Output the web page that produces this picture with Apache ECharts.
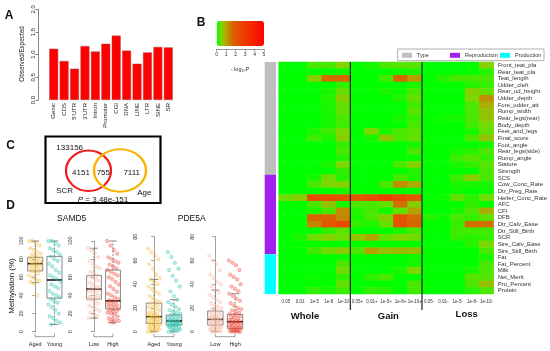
<!DOCTYPE html>
<html><head><meta charset="utf-8">
<script src="https://cdn.jsdelivr.net/npm/echarts@6/dist/echarts.min.js"></script>
<style>html,body{margin:0;padding:0;background:#fff}#c{width:550px;height:351px}</style>
</head><body><div id="c"></div>
<script>
// ---------- Panel A ----------
const featureCats = ['Genic','CDS',"5'UTR","3'UTR",'Intron','Promoter','CGI','DNA','LINE','LTR','SINE','SR'];
const obsExp = [1.13,0.86,0.69,1.19,1.07,1.24,1.42,1.09,0.80,1.05,1.17,1.16];

// ---------- Panel B ----------
const traits = ['Front_teat_pla','Rear_teat_pla','Teat_length','Udder_cleft','Rear_ud_height','Udder_depth','Fore_udder_att','Rump_width','Rear_legs(rear)','Body_depth','Feet_and_legs','Final_score','Foot_angle','Rear_legs(side)','Rump_angle','Stature','Strength','SCS','Cow_Conc_Rate','Dtr_Preg_Rate','Heifer_Conc_Rate','AFC','CFI','DFB','Dtr_Calv_Ease','Dtr_Still_Birth','SCR','Sire_Calv_Ease','Sire_Still_Birth','Fat','Fat_Percent','Milk','Net_Merit','Pro_Percent','Protein'];
const typeNames = ['Type','Reproduction','Production'];
const typeCounts = [17,12,6];
const colLabels = ['0.05','0.01','1e-5','1e-8','1e-10','0.05+','0.01+','1e-5+','1e-8+','1e-10+','0.05-','0.01-','1e-5-','1e-8-','1e-10-'];
const groupLabels = ['Whole','Gain','Loss'];
const heatWhole = [
[0,0,0.3,0.3,0.55],[0,0,0,0,0.05],[0,0,0.6,1.6,1.6],[0,0,0,0,0.2],[0,0,0,0.1,0.4],
[0,0,0,0.15,0.6],[0,0,0,0.1,0.4],[0,0,0,0.1,0.4],[0,0,0,0.1,0.3],[0,0,0,0.1,0.25],
[0,0,0.1,0.25,0.5],[0,0,0.25,0.1,0.6],[0,0,0,0,0.2],[0,0,0,0,0.3],[0,0,0,0,0.15],
[0,0,0,0.1,0.5],[0,0,0,0,0.2],[0,0,0.1,0.45,0.15],[0,0,0.3,0.5,0.55],[0,0,0,0,0.1],
[0.45,0.6,2.3,2.3,2.2],[0,0,0.3,0.7,0.1],[0,0,0.1,0.3,1.2],[0,0,1.8,1.8,1.3],[0,0,1.3,2.0,2.4],
[0,0,0,0.2,0.35],[0,0.1,0.45,0.55,0.45],[0,0,0,0,0],[0,0,0.25,0.45,0.6],[0,0,0,0,0.05],
[0,0,0,0,0.3],[0,0,0,0,0.45],[0,0,0.05,0,0.2],[0,0,0,0,0.4],[0,0,0.2,0.1,0.25]];
const heatGain = [
[0,0.1,0.3,0.35,0.35],[0,0,0,0.05,0.1],[0,0,0.25,1.7,1.1],[0,0,0,0,0.1],[0,0,0.1,0.05,0.3],
[0,0,0,0.15,0.4],[0,0,0,0,0.25],[0,0,0,0,0.35],[0,0,0,0.1,0.2],[0,0,0,0,0.3],
[0,0.5,0.1,0.3,0.35],[0,0.1,0.65,0.3,0.4],[0,0,0,0,0.1],[0,0,0,0,0.3],[0,0,0,0,0.05],
[0,0,0,0.3,0.55],[0,0,0,0,0.15],[0,0,0,0.3,0.1],[0,0,0.3,1.2,0.9],[0,0,0,0,0],
[2.0,2.3,2.8,2.3,2.0],[0.3,0.3,0.4,1.5,0.6],[0.15,0.3,0.1,0.4,1.0],[0.1,0.3,0.6,2.2,1.6],[0.2,0.1,0.4,2.1,1.7],
[0,0,0,0.1,0.3],[0.7,1.0,0.4,0.55,0.45],[0,0,0,0,0],[0.3,1.0,0.7,0.8,0.75],[0,0,0,0,0.05],
[0,0,0,0,0.1],[0,0,0,0.1,0.5],[0,0.2,0.3,0,0],[0,0,0,0,0.3],[0,0.2,0.15,0,0.25]];
const heatLoss = [
[0,0,0,0,0.55],[0,0,0,0,0.15],[0,0.15,0.3,0.3,0.3],[0,0,0,0.15,0.2],[0,0,0,0.6,0.4],
[0,0,0,0.5,1.2],[0,0,0,0.3,0.9],[0,0,0,0.3,0.7],[0,0.05,0.1,0.3,0.7],[0,0,0,0.25,0.45],
[0,0,0,0.1,0.4],[0,0,0,0.3,0.7],[0,0,0,0,0.1],[0,0,0.1,0.15,0.3],[0,0,0.25,0.35,0.2],
[0,0,0.1,0.2,0.35],[0,0,0,0,0.3],[0,0,0.25,0.6,0.3],[0,0,0.1,0.1,0.1],[0,0,0.05,0,0.05],
[0,0.05,0.4,0.15,0.45],[0,0,0,0.2,0],[0,0,0.1,0.3,0.9],[0.15,0.05,0.3,0.2,0.35],[0,0,0.2,1.5,1.5],
[0,0,0.25,0.25,0.25],[0,0,0.2,0.15,0.2],[0,0,0,0.15,0.5],[0,0,0,0,0.3],[0,0,0,0,0.1],
[0,0,0,0,0.3],[0,0,0,0.1,0.3],[0,0,0,0.35,0.35],[0,0,0,0.3,0.75],[0,0,0,0.15,0.3]];

// ---------- Panel C ----------
const vennOutside = '133156', vennScrOnly = '4151', vennBoth = '755', vennAgeOnly = '7111';
const vennSetA = 'SCR', vennSetB = 'Age', vennP = '3.48e-151';

// ---------- Panel D ----------
const genes = ['SAMD5','PDE5A'];
const ageCats = ['Aged','Young'];
const scrCats = ['Low','High'];
// box stats: [min, Q1, median, Q3, max]
const samd5AgedBox = [54,67,75,82,100];
const samd5YoungBox = [8,37,57,83,100];
const samd5LowBox = [15,36,47,62,92];
const samd5HighBox = [10,25,34,68,100];
const pde5aAgedBox = [0,7,12.6,24,44];
const pde5aYoungBox = [0,5.6,9,14,27];
const pde5aLowBox = [0,5.6,10.4,17.4,35];
const pde5aHighBox = [0,2.8,8.4,14.6,32];
const samd5Aged = [100,100,98,95,92,90,88,86,85,84,82,81,80,79,78,77,76,75,75,74,73,72,71,70,69,68,67,66,64,62,60,58,56,55,53,40];
const samd5Young = [100,100,98,95,92,90,88,85,83,80,78,75,72,68,65,62,60,58,55,52,50,48,45,42,40,38,36,34,32,30,27,24,20,17,15,12,10,8];
const samd5Low = [92,90,86,82,78,75,72,70,66,64,62,61,60,58,56,54,52,50,49,48,47,46,45,44,42,40,39,38,37,36,35,33,31,29,27,25,23,21,19,17,15];
const samd5High = [100,95,90,86,82,80,78,76,74,72,70,68,66,64,62,60,58,55,52,50,47,44,42,40,38,36,35,34,33,32,31,30,29,28,27,26,25,24,23,22,21,20,19,17,15,14,13,12,11,10];
const pde5aAged = [70,67,64,61,57,53,48,45,44,42,40,38,36,34,32,30,28,26,25,24,23,22,21,20,19,18,17,16,15,15,14,14,13,13,12,12,11,11,10,10,9,9,8,8,7,7,6,6,5,5,4,4,3,3,2,2,1,1,0,0];
const pde5aYoung = [67,63,58,53,52,47,43,38,34,30,27,25,23,21,19,18,17,16,15,14,14,13,12,12,11,11,10,10,9,9,9,8,8,8,7,7,7,6,6,6,5,5,5,4,4,3,3,2,2,1,1,0,0];
const pde5aLow = [64,60,57,52,48,45,42,40,38,35,33,31,29,27,25,24,22,21,20,19,18,17,16,15,15,14,13,13,12,12,11,11,10,10,10,9,9,8,8,7,7,6,6,6,5,5,4,4,3,3,2,2,1,1,0,0,0];
const pde5aHigh = [60,58,56,52,48,46,44,40,38,36,34,32,30,28,26,24,22,20,19,18,17,16,15,14,14,13,12,12,11,10,10,9,9,8,8,8,7,7,6,6,5,5,4,4,4,3,3,3,2,2,2,1,1,1,0,0,0,0];

const FONT = 'Liberation Sans';
const chart = echarts.init(document.getElementById('c'), null, {renderer:'canvas'});

const heatData = [];
[heatWhole, heatGain, heatLoss].forEach((g, gi) => {
  g.forEach((row, r) => row.forEach((v, c) => heatData.push([gi*5 + c, r, v])));
});

const grids = [], xAxes = [], yAxes = [], series = [];

// A
grids.push({left:48.5, top:9.3, width:125, height:90.7});
xAxes.push({gridIndex:0, type:'category', data:featureCats, axisLine:{show:false}, axisTick:{show:false},
  axisLabel:{rotate:90, fontSize:6, margin:3, interval:0, color:'#222', fontFamily:FONT}});
yAxes.push({gridIndex:0, type:'value', min:0, max:2, interval:0.5, offset:10,
  axisLine:{show:true, lineStyle:{color:'#555', width:0.7}}, axisTick:{show:true, length:3, lineStyle:{color:'#555', width:0.7}},
  splitLine:{show:false}, axisLabel:{rotate:90, fontSize:6, margin:2, color:'#222', fontFamily:FONT, formatter:v=>v.toFixed(1)}});
series.push({type:'bar', xAxisIndex:0, yAxisIndex:0, data:obsExp, barCategoryGap:'14%',
  itemStyle:{color:'#ff0000', borderColor:'#b05050', borderWidth:0.5}, silent:true});

// B heatmap
grids.push({left:278.7, top:62, width:219.3, height:232});
xAxes.push({gridIndex:1, type:'category', data:colLabels, position:'bottom', axisLine:{show:false}, axisTick:{show:false},
  splitLine:{show:false}, axisLabel:{fontSize:4.5, margin:5, interval:0, color:'#333', fontFamily:FONT}});
yAxes.push({gridIndex:1, type:'category', data:traits, inverse:true, position:'right', axisLine:{show:false}, axisTick:{show:false},
  splitLine:{show:false}, axisLabel:{fontSize:6, margin:4, interval:0, color:'#333', fontFamily:FONT}});
series.push({type:'heatmap', xAxisIndex:1, yAxisIndex:1, data:heatData, silent:true, progressive:0, emphasis:{disabled:true}});

// B sidebar
grids.push({left:264.7, top:62, width:11.3, height:232});
xAxes.push({gridIndex:2, type:'category', data:['t'], show:false});
yAxes.push({gridIndex:2, type:'value', min:0, max:traits.length, inverse:true, show:false});
const typeColors = ['#bebebe','#a020f0','#00ffff'];
typeNames.forEach((n, i) => series.push({type:'bar', name:n, xAxisIndex:2, yAxisIndex:2, stack:'type', barWidth:'100%',
  data:[typeCounts[i]], itemStyle:{color:typeColors[i]}, silent:true}));

// B group dividers
series.push({type:'custom', xAxisIndex:1, yAxisIndex:1, silent:true, clip:false, data:[[4],[9]],
  renderItem:(params, api) => {
    const p = api.coord([api.value(0), 0]);
    const bw = api.size([1, 0])[0];
    const cs = params.coordSys;
    const x = p[0] + bw/2;
    return {type:'line', shape:{x1:x, y1:cs.y, x2:x, y2:cs.y + cs.height + 16}, style:{stroke:'#222', lineWidth:1.2}};
  }});

// B colour-key axis
grids.push({left:216.7, top:48.5, width:47.3, height:1});
xAxes.push({gridIndex:3, type:'value', min:0, max:5, interval:1, position:'bottom',
  axisLine:{show:true, lineStyle:{color:'#555', width:0.6}}, axisTick:{show:true, length:2, lineStyle:{color:'#555', width:0.6}},
  splitLine:{show:false}, axisLabel:{show:true, fontSize:5, margin:3, color:'#333', fontFamily:FONT}});
yAxes.push({gridIndex:3, type:'value', show:false});

// D panels
const jit = i => (((i * 37) % 29) / 28 - 0.5) * 0.62;
const cAged = '#f5bf3f', cYoung = '#33c4ae', cLow = '#f7b7a3', cHigh = '#ee4a3a';
const dPanels = [
  {grid:{left:25.5, top:241, width:38.6, height:90.7}, yMax:100, offset:0, cats:ageCats, boxes:[samd5AgedBox,samd5YoungBox], pts:[samd5Aged,samd5Young], cols:[cAged,cYoung]},
  {grid:{left:84.5, top:241, width:38, height:90.7}, yMax:100, offset:10.5, cats:scrCats, boxes:[samd5LowBox,samd5HighBox], pts:[samd5Low,samd5High], cols:[cLow,cHigh]},
  {grid:{left:144, top:236.7, width:40, height:95}, yMax:80, offset:4.7, cats:ageCats, boxes:[pde5aAgedBox,pde5aYoungBox], pts:[pde5aAged,pde5aYoung], cols:[cAged,cYoung]},
  {grid:{left:205.5, top:236.7, width:39.4, height:95}, yMax:80, offset:8.8, cats:scrCats, boxes:[pde5aLowBox,pde5aHighBox], pts:[pde5aLow,pde5aHigh], cols:[cLow,cHigh]}
];
function hexA(h, a){const n=parseInt(h.slice(1),16);return `rgba(${n>>16},${(n>>8)&255},${n&255},${a})`;}
dPanels.forEach(p => {
  const gi = grids.length;
  grids.push(p.grid);
  const xv = xAxes.length;
  xAxes.push({gridIndex:gi, type:'value', min:-0.5, max:1.5, show:false, position:'top'});
  xAxes.push({gridIndex:gi, type:'category', data:p.cats, position:'bottom', axisLine:{show:false}, axisTick:{show:false},
    axisLabel:{fontSize:5.5, margin:10, interval:0, color:'#222', fontFamily:FONT}});
  const yi = yAxes.length;
  yAxes.push({gridIndex:gi, type:'value', min:0, max:p.yMax, interval:20, offset:p.offset,
    axisLine:{show:true, lineStyle:{color:'#777', width:0.7}}, axisTick:{show:true, length:3, lineStyle:{color:'#777', width:0.7}},
    splitLine:{show:false}, axisLabel:{rotate:90, fontSize:5.5, margin:1, color:'#333', fontFamily:FONT}});
  p.pts.forEach((arr, g) => {
    series.push({type:'scatter', xAxisIndex:xv, yAxisIndex:yi, silent:true, symbolSize:3.4,
      data:arr.map((v, i) => [g + jit(i), v]),
      itemStyle:{color:hexA(p.cols[g],0.4), borderColor:hexA(p.cols[g],0.9), borderWidth:0.5}});
  });
  series.push({type:'custom', xAxisIndex:xv, yAxisIndex:yi, silent:true, clip:false,
    data:p.boxes.map((b, g) => [g, ...b]),
    renderItem:(params, api) => {
      const x = api.value(0), mn = api.value(1), q1 = api.value(2), md = api.value(3), q3 = api.value(4), mx = api.value(5);
      const hw = 0.39, cw = 0.2;
      const a = api.coord([x-hw, q3]), b = api.coord([x+hw, q1]);
      const m0 = api.coord([x-hw, md]), m1 = api.coord([x+hw, md]);
      const top = api.coord([x, mx]), bot = api.coord([x, mn]);
      const c0 = api.coord([x-cw, 0])[0], c1 = api.coord([x+cw, 0])[0];
      const st = {stroke:'#6a6a6a', lineWidth:0.8};
      return {type:'group', children:[
        {type:'line', shape:{x1:top[0], y1:a[1], x2:top[0], y2:top[1]}, style:{...st, lineDash:[2,1.5]}},
        {type:'line', shape:{x1:bot[0], y1:b[1], x2:bot[0], y2:bot[1]}, style:{...st, lineDash:[2,1.5]}},
        {type:'line', shape:{x1:c0, y1:top[1], x2:c1, y2:top[1]}, style:st},
        {type:'line', shape:{x1:c0, y1:bot[1], x2:c1, y2:bot[1]}, style:st},
        {type:'rect', shape:{x:a[0], y:a[1], width:b[0]-a[0], height:b[1]-a[1]}, style:{...st, fill:'none'}},
        {type:'line', shape:{x1:m0[0], y1:m0[1], x2:m1[0], y2:m1[1]}, style:{stroke:'#111', lineWidth:1.6}}
      ]};
    }});
  series.push({type:'custom', xAxisIndex:xv, yAxisIndex:yi, silent:true, clip:false, data:[[0,1]],
    renderItem:(params, api) => {
      const cs = params.coordSys;
      const x0 = api.coord([api.value(0), 0])[0], x1 = api.coord([api.value(1), 0])[0];
      const y = cs.y + cs.height + 5;
      return {type:'polyline', shape:{points:[[x0,y-3],[x0,y],[x1,y],[x1,y-3]]}, style:{stroke:'#777', lineWidth:0.7, fill:'none'}};
    }});
});

const T = (text, x, y, size, extra) => Object.assign({type:'text', x, y, silent:true,
  style:Object.assign({text, fontSize:size, fontFamily:FONT, fill:'#111', align:'center', verticalAlign:'middle'}, extra||{})});
const graphic = [
  T('A', 9, 16, 12, {fontWeight:'bold'}),
  T('B', 201, 23, 12, {fontWeight:'bold'}),
  T('C', 10.5, 145.5, 12, {fontWeight:'bold'}),
  T('D', 10.5, 206, 12, {fontWeight:'bold'}),
  Object.assign(T('Observed/Expected', 22, 54, 6.3), {rotation:Math.PI/2}),
  T('- log\u2081\u2080P', 240, 69, 5.5, {fill:'#333'}),
  T(groupLabels[0], 305, 316, 9.5, {fontWeight:'bold'}),
  T(groupLabels[1], 388.3, 316, 9.5, {fontWeight:'bold'}),
  T(groupLabels[2], 466.7, 314.5, 9.5, {fontWeight:'bold'}),
  // legend frame for B
  {type:'rect', silent:true, shape:{x:397.7, y:49, width:146.3, height:11.7}, style:{fill:'none', stroke:'#999', lineWidth:0.8}},
  // Venn
  {type:'rect', silent:true, shape:{x:45.5, y:136.5, width:115, height:66.5}, style:{fill:'none', stroke:'#000', lineWidth:2.2}},
  {type:'circle', silent:true, x:88.5, y:170.8, scaleX:22.5/20.2, shape:{cx:0, cy:0, r:20.2}, style:{fill:'none', stroke:'#ee1c1c', lineWidth:2, strokeNoScale:true}},
  {type:'circle', silent:true, x:120, y:170.5, scaleX:26/21.2, shape:{cx:0, cy:0, r:21.2}, style:{fill:'none', stroke:'#f6b400', lineWidth:2, strokeNoScale:true}},
  T(vennOutside, 69.7, 147.3, 8),
  T(vennScrOnly, 81, 172.7, 8),
  T(vennBoth, 103.3, 172.7, 8),
  T(vennAgeOnly, 131.7, 172.7, 8),
  T(vennSetA, 64.7, 191, 8),
  T(vennSetB, 144.3, 192.7, 8),
  T('{i|P} = ' + vennP, 103, 199.5, 8, {rich:{i:{fontStyle:'italic', fontSize:8, fontFamily:FONT}}}),
  // D
  T(genes[0], 71.7, 218.3, 8.5),
  T(genes[1], 191.7, 218.3, 8.5),
  Object.assign(T('Methylation (%)', 11.7, 286, 8), {rotation:Math.PI/2})
];

const legendLefts = [402, 450, 500];
chart.setOption({
  animation:false,
  textStyle:{fontFamily:FONT},
  grid:grids, xAxis:xAxes, yAxis:yAxes, series,
  legend:typeNames.map((n, i) => ({data:[n], left:legendLefts[i], top:52.3, icon:'rect', itemWidth:10, itemHeight:5,
    padding:0, selectedMode:false, textStyle:{fontSize:5.5, color:'#333', fontFamily:FONT}})),
  visualMap:{type:'continuous', seriesIndex:1, min:0, max:5, orient:'horizontal', left:216.7, top:21,
    itemWidth:25, itemHeight:47.3, calculable:false, hoverLink:false, padding:0, text:null, showLabel:false,
    inRange:{color:['#00ff00','#7cd800','#b4a400','#d07000','#e05800','#ea4600','#f03800','#f42c00','#f82000','#fc1000','#ff0000']}},
  graphic
});
</script></body></html>
